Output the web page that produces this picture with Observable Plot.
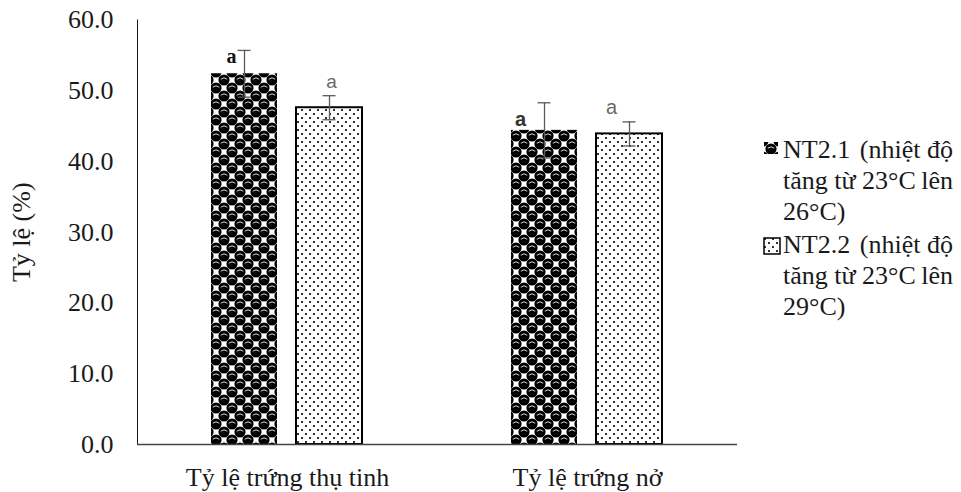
<!DOCTYPE html>
<html>
<head>
<meta charset="utf-8">
<script src="https://cdn.jsdelivr.net/npm/d3@7"></script>
<script src="https://cdn.jsdelivr.net/npm/@observablehq/plot@0.6"></script>
<style>
  body { margin: 0; background: #fff; }
  #chart { position: relative; width: 961px; height: 492px; overflow: hidden;
           font-family: "Liberation Serif", "Times New Roman", serif; color: #1a1a1a; }
  .entry { position: absolute; left: 763px; width: 192px; font-size: 26px; line-height: 31px; }
  .entry .line { margin-left: 20px; width: 170px; white-space: nowrap; }
  .entry .line.split { display: flex; justify-content: space-between; }
  .entry svg { position: absolute; left: 0; }
</style>
</head>
<body>
<div id="chart"></div>
<script>
// Categories on the x axis
const categories = ["Tỷ lệ trứng thụ tinh", "Tỷ lệ trứng nở"];
// Treatments (series)
const seriesKeys = ["NT2.1", "NT2.2"];
const seriesNames = [
  "NT2.1 (nhiệt độ tăng từ 23°C lên 26°C)",
  "NT2.2 (nhiệt độ tăng từ 23°C lên 29°C)"
];
// Mean rates (%) per category
const valuesNT21 = [52.4, 44.4];
const valuesNT22 = [47.6, 43.9];
// Standard errors
const errorsNT21 = [3.3, 3.9];
const errorsNT22 = [1.7, 1.7];
// Significance letters
const lettersNT21 = ["a", "a"];
const lettersNT22 = ["a", "a"];
// Y axis ticks
const yTicks = [0, 10, 20, 30, 40, 50, 60];

const seriesValues = [valuesNT21, valuesNT22];
const seriesErrors = [errorsNT21, errorsNT22];
const seriesLetters = [lettersNT21, lettersNT22];

const rows = categories.flatMap((c, i) =>
  seriesKeys.map((s, j) => ({
    category: c, series: s,
    value: seriesValues[j][i], error: seriesErrors[j][i], letter: seriesLetters[j][i]
  }))
);

// Hand-placed significance letters: offsets and fonts, in row order
const letterStyles = [
  {dx: -13, dy: 6,   fontFamily: "Liberation Serif", fontWeight: "bold", fontSize: 20, fill: "#111"},
  {dx: 2,   dy: -14, fontFamily: "Liberation Sans",  fontWeight: "normal", fontSize: 19, fill: "#6a6a6a"},
  {dx: -24, dy: 17,  fontFamily: "Liberation Sans",  fontWeight: "bold", fontSize: 20, fill: "#333"},
  {dx: -18, dy: -14, fontFamily: "Liberation Sans",  fontWeight: "normal", fontSize: 20, fill: "#6a6a6a"}
];

const fills = {"NT2.1": "url(#sphere)", "NT2.2": "url(#dots)"};

const chart = Plot.plot({
  width: 961,
  height: 492,
  marginLeft: 137,
  marginRight: 224,
  marginTop: 19.5,
  marginBottom: 48,
  style: {fontFamily: "Liberation Serif, Times New Roman, serif", fontSize: "26px", color: "#1a1a1a", background: "#fff"},
  fx: {domain: categories, padding: 0, axis: "bottom", label: null, tickSize: 0, tickPadding: 23},
  x: {domain: seriesKeys, paddingInner: 0.2235, paddingOuter: 0.876, axis: null},
  y: {
    domain: [0, 60], ticks: yTicks, tickFormat: d => d.toFixed(1),
    tickSize: 0, tickPadding: 24, line: true,
    label: "Tỷ lệ (%)", labelAnchor: "center", labelArrow: "none", labelOffset: 126
  },
  marks: [
    Plot.barY(rows.filter(d => d.series === "NT2.1"), {fx: "category", x: "series", y: "value", fill: fills["NT2.1"]}),
    Plot.barY(rows.filter(d => d.series === "NT2.2"), {fx: "category", x: "series", y: "value", fill: fills["NT2.2"], stroke: "#000", strokeWidth: 2}),
    Plot.ruleY([0], {stroke: "#444", strokeWidth: 1.6}),
    Plot.ruleX(rows, {fx: "category", x: "series", y1: d => d.value - d.error, y2: d => d.value + d.error, stroke: "#5a5a5a", strokeWidth: 1.3}),
    Plot.tickY(rows, {fx: "category", x: "series", y: d => d.value + d.error, stroke: "#5a5a5a", strokeWidth: 1.3, insetLeft: 26.5, insetRight: 26.5}),
    Plot.tickY(rows, {fx: "category", x: "series", y: d => d.value - d.error, stroke: "#5a5a5a", strokeWidth: 1.3, insetLeft: 26.5, insetRight: 26.5}),
    ...rows.map((r, i) => Plot.text([r], {
      fx: "category", x: "series", y: d => d.value + d.error, text: "letter",
      ...letterStyles[i]
    }))
  ]
});

// Fill patterns for the two treatments
const defs = d3.create("svg:defs");
const sphere = defs.append("pattern").attr("id", "sphere")
  .attr("width", 16).attr("height", 16).attr("patternUnits", "userSpaceOnUse");
sphere.append("rect").attr("width", 16).attr("height", 16).attr("fill", "#fff");
for (const [cx, cy] of [[0, 0], [16, 0], [0, 16], [16, 16], [8, 8]]) {
  sphere.append("circle").attr("cx", cx).attr("cy", cy).attr("r", 5.6).attr("fill", "#000");
  sphere.append("path")
    .attr("d", `M${cx - 3.2},${cy - 0.8} Q${cx},${cy - 3.6} ${cx + 3.2},${cy - 0.8}`)
    .attr("fill", "none").attr("stroke", "#d8d8d8").attr("stroke-width", 1);
}
const dots = defs.append("pattern").attr("id", "dots")
  .attr("width", 8).attr("height", 8).attr("patternUnits", "userSpaceOnUse");
dots.append("rect").attr("width", 8).attr("height", 8).attr("fill", "#fff");
dots.append("rect").attr("x", 1).attr("y", 1).attr("width", 2).attr("height", 2).attr("fill", "#333");
dots.append("rect").attr("x", 5).attr("y", 5).attr("width", 2).attr("height", 2).attr("fill", "#333");
chart.insertBefore(defs.node(), chart.firstChild);

const root = document.getElementById("chart");
root.appendChild(chart);

// Legend on the right: wrapped, justified lines like the original
const legendLines = [
  [["NT2.1", "(nhiệt độ"], ["tăng từ 23°C", "lên"], ["26°C)"]],
  [["NT2.2", "(nhiệt độ"], ["tăng từ 23°C", "lên"], ["29°C)"]]
];
const legendTops = [133.7, 228.7];
const markers = [
  {fill: fills["NT2.1"], w: 14, h: 12, dy: 7, stroke: "none"},
  {fill: fills["NT2.2"], w: 16, h: 16, dy: 8, stroke: "#000"}
];
legendLines.forEach((lines, k) => {
  const entry = document.createElement("div");
  entry.className = "entry";
  entry.title = seriesNames[k];
  entry.style.top = legendTops[k] + "px";
  const m = markers[k];
  const sw = d3.create("svg").attr("width", m.w + 2).attr("height", m.h + 2).style("top", m.dy + "px");
  sw.append("rect").attr("x", 1).attr("y", 1).attr("width", m.w).attr("height", m.h)
    .attr("fill", m.fill).attr("stroke", m.stroke).attr("stroke-width", 1.5);
  entry.appendChild(sw.node());
  for (const parts of lines) {
    const line = document.createElement("div");
    line.className = parts.length > 1 ? "line split" : "line";
    for (const p of parts) {
      const span = document.createElement("span");
      span.textContent = p;
      line.appendChild(span);
    }
    entry.appendChild(line);
  }
  root.appendChild(entry);
});
</script>
</body>
</html>
